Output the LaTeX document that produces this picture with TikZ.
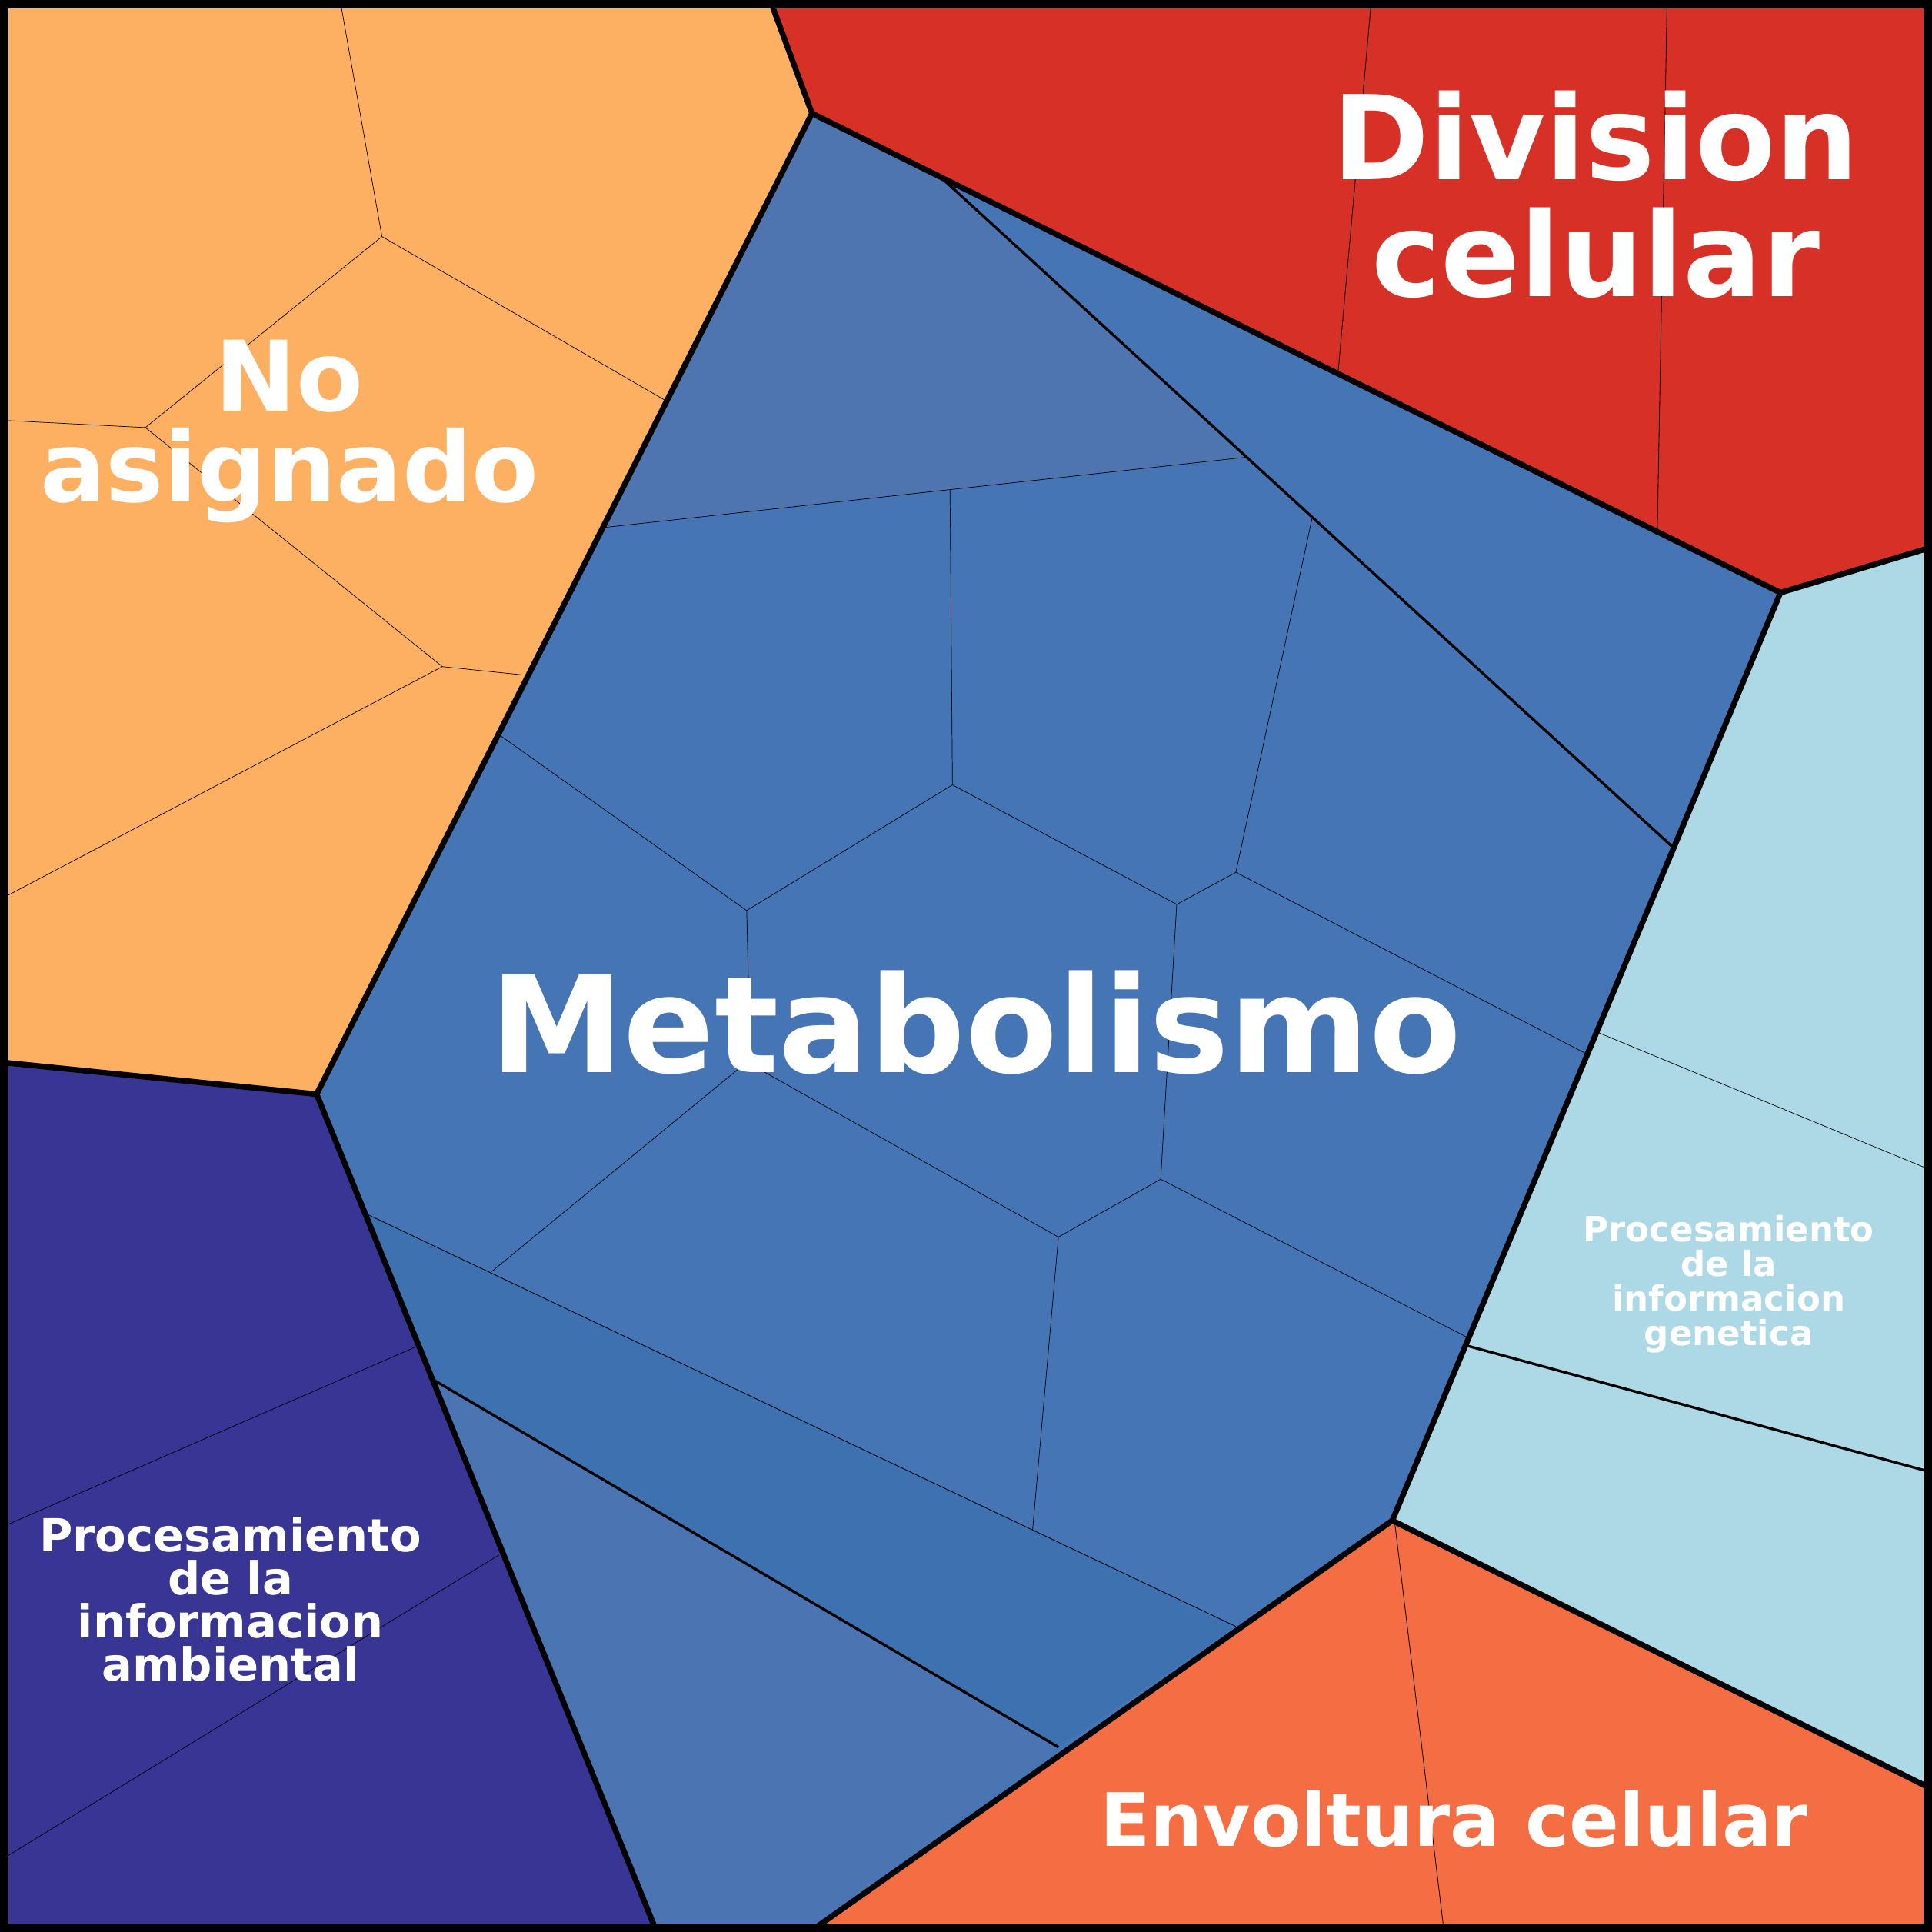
\documentclass[tikz,border=0pt]{standalone}
\usepackage{fontspec}
\setmainfont{DejaVu Sans}
\usetikzlibrary{positioning}
\definecolor{naOrange}{HTML}{FEB062}
\definecolor{divRed}{HTML}{D73027}
\definecolor{metBlue}{HTML}{4575B4}
\definecolor{metTop}{HTML}{4E75B0}
\definecolor{metStrip}{HTML}{3D71B0}
\definecolor{metLow}{HTML}{4A74B2}
\definecolor{genBlue}{HTML}{ADD8E6}
\definecolor{envOrange}{HTML}{F46D43}
\definecolor{ambPurple}{HTML}{383594}
\tikzset{
  cell/.style={draw=black, line width=0.3pt},
  region/.style={draw=black, line width=2.6pt, line join=round},
  mid/.style={draw=black, line width=1.2pt},
  thin/.style={draw=black, line width=0.25pt},
  label/.style={text=white, font=\bfseries, align=center}
}
\begin{document}
\begin{tikzpicture}[x=0.02cm, y=-0.02cm]
  \useasboundingbox (0,0) rectangle (1568,1568);
  % top level regions
  \fill[naOrange] (0,0) -- (625,0) -- (659,92) -- (257,888) -- (0,862) -- cycle;
  \fill[divRed] (625,0) -- (1568,0) -- (1568,444) -- (1445,481) -- (659,92) -- cycle;
  \fill[genBlue] (1445,481) -- (1568,444) -- (1568,1452) -- (1130,1234) -- cycle;
  \fill[envOrange] (1130,1234) -- (1568,1452) -- (1568,1568) -- (657,1568) -- cycle;
  \fill[ambPurple] (0,862) -- (257,888) -- (533,1568) -- (0,1568) -- cycle;
  \fill[metBlue] (659,92) -- (1445,481) -- (1130,1234) -- (657,1568) -- (533,1568) -- (257,888) -- cycle;
  % metabolism sub cells
  \fill[metTop] (659,92) -- (767,147) -- (1012,371) -- (491,428) -- cycle;
  \fill[metStrip] (297,985) -- (1003,1320) -- (859,1418) -- (352,1120) -- cycle;
  \fill[metLow] (352,1120) -- (859,1418) -- (657,1568) -- (533,1568) -- cycle;
  % No asignado
  \draw[thin] (276,0) -- (310,192) -- (540,325);
  \draw[thin] (310,192) -- (118,347) -- (0,341);
  \draw[thin] (118,347) -- (359,541) -- (427,548);
  \draw[thin] (359,541) -- (0,730);
  % Division celular
  \draw[cell] (1113,0) -- (1086,302);
  \draw[cell] (1353,0) -- (1345,432);
  % Metabolismo
  \draw[mid] (767,147) -- (1357,687);
  \draw[mid] (352,1120) -- (859,1418);
  \draw[cell] (297,985) -- (1003,1320);
  \draw[thin] (491,428) -- (1012,371);
  \draw[thin] (771,397) -- (773,637) -- (606,739) -- (406,597);
  \draw[thin] (773,637) -- (955,734) -- (1003,708) -- (1065,420);
  \draw[thin] (1003,708) -- (1287,855);
  \draw[thin] (955,734) -- (942,957) -- (1190,1085);
  \draw[thin] (942,957) -- (859,1004) -- (838,1242);
  \draw[thin] (859,1004) -- (606,862) -- (399,1032);
  \draw[thin] (606,739) -- (609,862);
  % genetica
  \draw[thin] (1297,838) -- (1568,950);
  \draw[mid] (1190,1092) -- (1568,1195);
  % ambiental
  \draw[thin] (0,1240) -- (340,1092);
  \draw[thin] (0,1510) -- (405,1262);
  % envoltura
  \draw[cell] (1132,1236) -- (1172,1568);
  % region borders
  \draw[region] (625,0) -- (659,92) -- (257,888) -- (0,862);
  \draw[region] (659,92) -- (1445,481) -- (1568,444);
  \draw[region] (1445,481) -- (1130,1234) -- (1568,1452);
  \draw[region] (1130,1234) -- (657,1568);
  \draw[region] (257,888) -- (533,1568);
  \draw[line width=5pt] (2.5,2.5) rectangle (1565.5,1565.5);
  % labels
  \node (met) [label, font=\bfseries\fontsize{62}{66}\selectfont] at (792,830) {Metabolismo};
  \node (div) [label, font=\bfseries\fontsize{54}{54}\selectfont] at (1295,158) {Division\\celular};
  \node (noas) [label, font=\bfseries\fontsize{45}{42}\selectfont] at (235,350) {No\\asignado};
  \node (env) [label, font=\bfseries\fontsize{34}{36}\selectfont] at (1180,1476) {Envoltura celular};
  \node (amb) [label, font=\bfseries\fontsize{21}{20}\selectfont] at (187,1298) {Procesamiento\\de la\\informacion\\ambiental};
  \node (gen) [label, font=\bfseries\fontsize{16}{16}\selectfont] at (1403,1042) {Procesamiento\\de la\\informacion\\genetica};
\end{tikzpicture}
\end{document}
